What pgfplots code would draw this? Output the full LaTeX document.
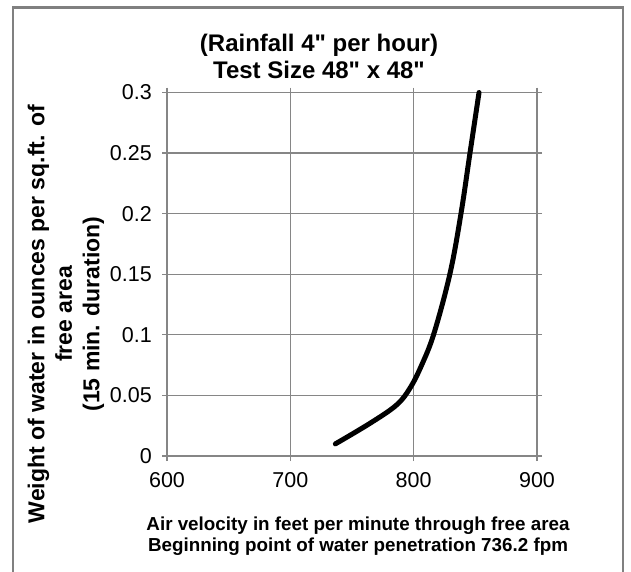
\documentclass[border=0pt]{standalone}
\usepackage{pgfplots}
\pgfplotsset{compat=1.18}
\usepackage{fontspec}
\setmainfont{Liberation Sans}[Ligatures=TeXOff]
\definecolor{gridgray}{RGB}{134,134,134}
\definecolor{bordergray}{RGB}{128,128,128}
\begin{document}
\begin{tikzpicture}[x=1pt,y=1pt]
\begin{axis}[
  at={(167pt,115pt)}, anchor=south west,
  scale only axis, width=370pt, height=363.5pt,
  xmin=600, xmax=900, ymin=0, ymax=0.3,
  xtick={600,700,800,900}, ytick={0,0.05,0.1,0.15,0.2,0.25,0.3},
  yticklabels={0,0.05,0.1,0.15,0.2,0.25,0.3},
  grid=major, major grid style={gridgray, line width=1.3pt},
  axis line style={gridgray, line width=1.3pt},
  tick style={gridgray, line width=1.3pt},
  tick align=outside, major tick length=5pt,
  /pgf/number format/assume math mode=true,
  ticklabel style={font=\fontsize{21.5}{21.5}\selectfont, inner sep=0pt},
  xticklabel style={anchor=north, yshift=-11.5pt},
  yticklabel style={anchor=east, xshift=-10pt},
  xticklabel={\pgfmathprintnumber[fixed]{\tick}},
  clip=false,
]
\addplot[black, line width=5pt, line cap=round, line join=round, smooth, tension=0.6] coordinates {
(736.5,0.0100) (764.6,0.0270) (786,0.0420) (797,0.0560)
(806.5,0.0751) (816.5,0.1013)
(829.5,0.1508) (838.4,0.2003) (845.7,0.2503) (853,0.3000)
};
\end{axis}
\node[align=center, font=\fontsize{24}{27}\selectfont\bfseries] at (319,514.5) {(Rainfall 4" per hour)\\Test Size 48" x 48"};
\node[align=center, font=\fontsize{18.8}{21}\selectfont\bfseries] at (358,34.5) {Air velocity in feet per minute through free area\\Beginning point of water penetration 736.2 fpm};
\node[align=center, rotate=90, font=\fontsize{23}{27.5}\selectfont\bfseries] at (66,257) {Weight of water in ounces per sq.ft. of\\free area\\(15 min. duration)};
\draw[bordergray, line width=2.2pt] (13.3,-2) -- (13.3,563.5) -- (623,563.5) -- (623,-2);
\pgfresetboundingbox
\path[use as bounding box] (0,0) rectangle (631,571);
\end{tikzpicture}
\end{document}
